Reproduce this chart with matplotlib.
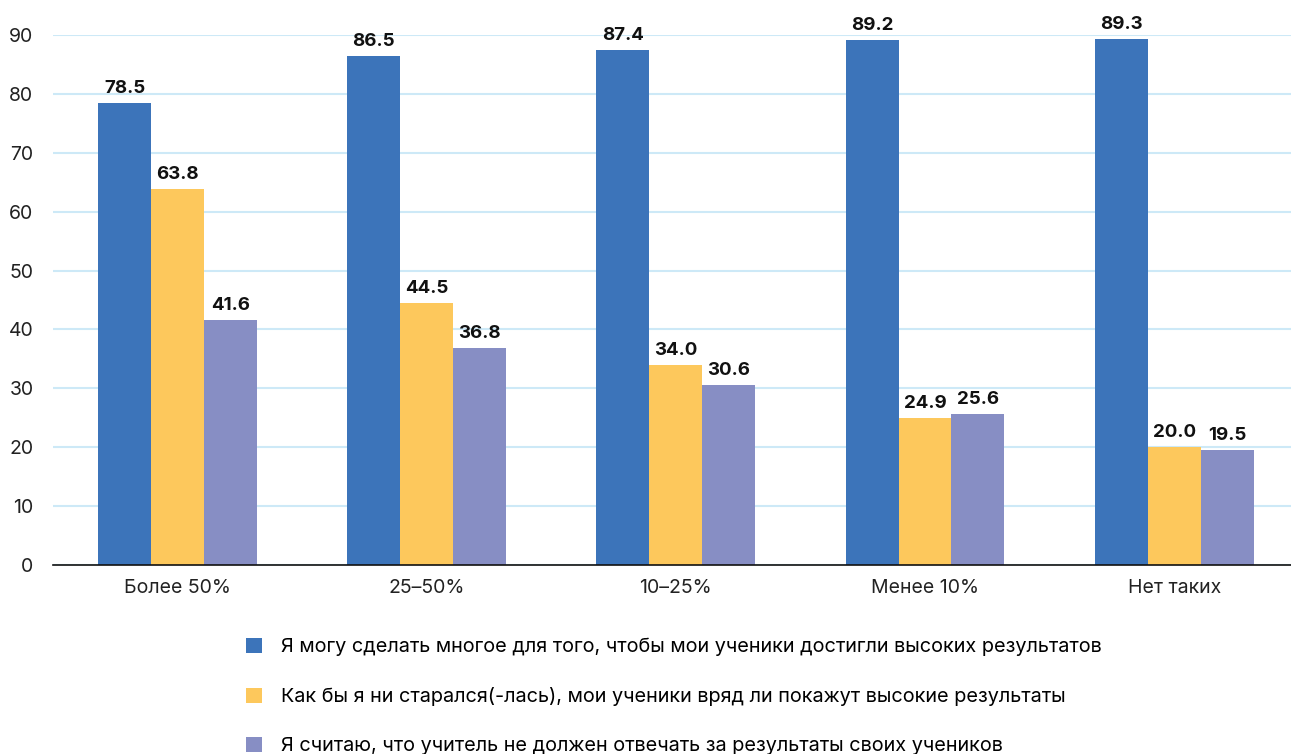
import matplotlib.pyplot as plt
import numpy as np

plt.rcParams['font.family'] = ['Inter', 'DejaVu Sans']

categories = ['Более 50%', '25–50%', '10–25%', 'Менее 10%', 'Нет таких']
can_do_much = [78.5, 86.5, 87.4, 89.2, 89.3]
hardly_show = [63.8, 44.5, 34.0, 24.9, 20.0]
not_responsible = [41.6, 36.8, 30.6, 25.6, 19.5]

series_names = [
    'Я могу сделать многое для того, чтобы мои ученики достигли высоких результатов',
    'Как бы я ни старался(-лась), мои ученики вряд ли покажут высокие результаты',
    'Я считаю, что учитель не должен отвечать за результаты своих учеников',
]
colors = ['#3C74BA', '#FDC85C', '#878EC4']

fig = plt.figure(figsize=(12.91, 7.54), dpi=100)
ax = fig.add_axes([0.041, 0.2507, 0.965, 0.7029])

x = np.arange(len(categories))
w = 0.2125
handles = []
for i, (vals, name, c) in enumerate(zip([can_do_much, hardly_show, not_responsible], series_names, colors)):
    bars = ax.bar(x + (i - 1) * w, vals, width=w, color=c, label=name, zorder=3)
    handles.append(bars)
    for b, v in zip(bars, vals):
        ax.text(b.get_x() + b.get_width() / 2, v + 1.0, f'{v:.1f}',
                ha='center', va='bottom', fontsize=13.5, fontweight='bold',
                color='#111111', clip_on=False)

ax.set_xlim(-0.5, 4.5)
ax.set_ylim(0, 90)
ax.set_yticks(range(0, 91, 10))
ax.set_xticks(x)
ax.set_xticklabels(categories)
ax.tick_params(axis='both', length=0, labelsize=14, colors='#222222')
ax.tick_params(axis='x', pad=10)
ax.tick_params(axis='y', pad=14)
ax.yaxis.grid(True, color='#CDE9F7', linewidth=1.5, zorder=0)
for s in ['top', 'right', 'left']:
    ax.spines[s].set_visible(False)
ax.spines['bottom'].set_color('#111111')
ax.spines['bottom'].set_linewidth(1.2)
ax.spines['bottom'].set_zorder(4)

fig.legend(handles=handles, labels=series_names, loc='upper left',
           bbox_to_anchor=(0.1905, 0.154), frameon=False, fontsize=14.3,
           handlelength=0.8, handleheight=0.8, handletextpad=0.96,
           labelspacing=1.55, borderaxespad=0, borderpad=0)

fig.savefig('out.png', dpi=100)
